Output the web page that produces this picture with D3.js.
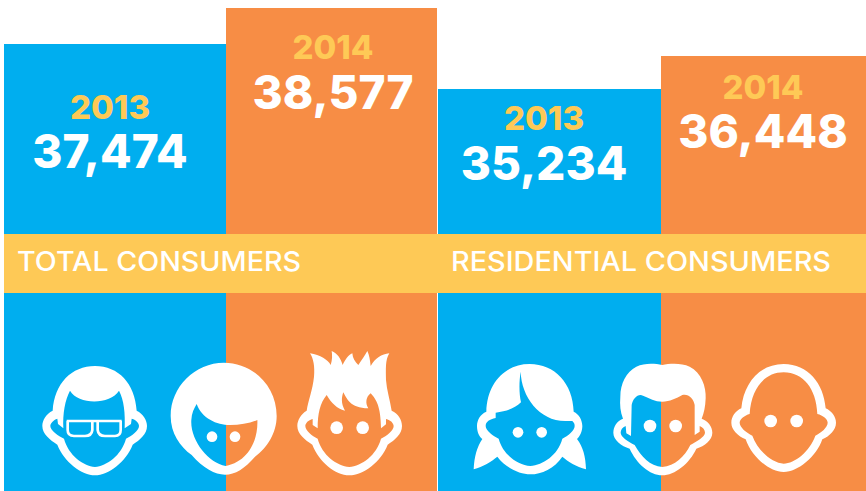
<!DOCTYPE html>
<html>
<head>
<meta charset="utf-8">
<script src="https://cdn.jsdelivr.net/npm/d3@7"></script>
<style>
  html, body { margin: 0; padding: 0; background: #fff; }
  text { font-family: Inter, sans-serif; }
</style>
</head>
<body>
<div id="main"></div>
<script>
const barKeys = ['total2013', 'total2014', 'res2013', 'res2014'];
const years = ['2013', '2014', '2013', '2014'];
const consumers = [37474, 38577, 35234, 36448];
const groupLabels = ['TOTAL CONSUMERS', 'RESIDENTIAL CONSUMERS'];

const BLUE = '#00aeef', ORANGE = '#f78d45', YELLOW = '#fec956';
const width = 866, height = 491;

// the original bars are not proportional, so the scale goes through each value
const y = d3.scaleLinear()
  .domain([35234, 36448, 37474, 38577])
  .range([89, 56, 44, 8]);
const xLeft = d3.scaleOrdinal().domain(barKeys).range([4, 226, 438, 661]);
const xRight = d3.scaleOrdinal().domain(barKeys).range([226, 437, 661, 866]);
const color = d3.scaleOrdinal().domain(barKeys).range([BLUE, ORANGE, BLUE, ORANGE]);
const labelCenter = d3.scaleOrdinal().domain(barKeys).range([110, 333, 544, 763]);
const yearBase = d3.scaleOrdinal().domain(barKeys).range([119, 59, 130, 99]);
const valueBase = d3.scaleOrdinal().domain(barKeys).range([168, 109, 180, 148]);
const fmt = d3.format(',');

const svg = d3.select('#main').append('svg')
  .attr('width', width)
  .attr('height', height)
  .style('display', 'block');

svg.selectAll('.bar')
  .data(barKeys)
  .enter().append('rect')
  .attr('class', 'bar')
  .attr('x', d => xLeft(d))
  .attr('width', d => xRight(d) - xLeft(d))
  .attr('y', (d, i) => y(consumers[i]))
  .attr('height', (d, i) => height - y(consumers[i]))
  .attr('fill', d => color(d));

svg.append('rect')
  .attr('x', 4).attr('y', 234)
  .attr('width', 862).attr('height', 59)
  .attr('fill', YELLOW);

svg.selectAll('.year')
  .data(barKeys)
  .enter().append('text')
  .attr('class', 'year')
  .attr('x', d => labelCenter(d))
  .attr('y', d => yearBase(d))
  .attr('text-anchor', 'middle')
  .attr('font-size', 33)
  .attr('font-weight', 800)
  .attr('fill', YELLOW)
  .text((d, i) => years[i]);

svg.selectAll('.value')
  .data(barKeys)
  .enter().append('text')
  .attr('class', 'value')
  .attr('x', d => labelCenter(d))
  .attr('y', d => valueBase(d))
  .attr('text-anchor', 'middle')
  .attr('font-size', 46)
  .attr('font-weight', 800)
  .attr('fill', '#fff')
  .text((d, i) => fmt(consumers[i]));

svg.selectAll('.group')
  .data(groupLabels)
  .enter().append('text')
  .attr('class', 'group')
  .attr('x', (d, i) => [17, 451][i])
  .attr('y', 271)
  .attr('font-size', 27)
  .attr('font-weight', 500)
  .attr('fill', '#fff')
  .attr('textLength', (d, i) => [284, 380][i])
  .attr('lengthAdjust', 'spacingAndGlyphs')
  .text(d => d);

// faces: traced at 3x, holes let the bars show through
const faces = [
  { at: [0, 340], eyes: [],
    d: 'M285 78C355 78 405 130 410 212C430 222 441 240 441 258C441 282 420 300 398 314C378 365 325 406 285 406C245 406 192 365 172 314C150 300 127 282 127 258C127 240 138 222 158 212C163 130 215 78 285 78Z' +
       'M210 152C235 195 330 195 357 152C372 180 376 220 374 265L393 252L395 236C410 240 417 250 417 258C417 272 395 288 378 296C365 345 320 378 285 381C250 378 205 345 192 296C175 288 151 272 151 258C151 250 160 240 172 236L174 252L190 265C188 220 195 180 210 152Z',
    glasses: 'M200 243H365M203 243V270Q203 288 222 288H255Q275 288 277 270V243M293 243V270Q295 288 315 288H345Q362 288 362 270V243' },
  { at: [0, 340], eyes: [[636, 290, 16], [705, 290, 16]],
    d: 'M672 68C760 68 830 140 830 228C830 280 800 325 765 350C735 385 705 404 675 404C645 404 610 385 575 345C540 320 512 280 512 228C512 140 585 68 672 68Z' +
       'M590 192C605 235 650 255 690 255C720 255 750 250 772 240C775 300 745 365 677 378C625 370 570 300 574 240C575 220 582 205 590 192Z' },
  { at: [0, 340], eyes: [[1010, 263, 19], [1088, 263, 19]],
    d: 'M930 40C960 45 985 60 992 75C997 60 997 45 995 33C1012 40 1022 55 1028 75C1035 60 1045 45 1057 40C1058 55 1065 65 1075 75C1085 60 1095 45 1102 33C1108 45 1110 60 1112 78C1125 55 1145 42 1168 40C1155 60 1158 90 1158 120C1160 150 1170 180 1175 212C1195 220 1206 240 1206 258C1206 282 1185 300 1163 314C1143 365 1090 406 1048 406C1006 406 957 365 937 314C915 300 892 282 892 258C892 240 903 222 920 212C925 180 938 150 942 110C945 80 940 55 930 40Z' +
       'M980 165C995 190 1010 205 1035 212C1022 190 1025 170 1030 157C1040 175 1050 205 1105 205C1095 190 1098 170 1112 160C1130 180 1142 200 1143 265L1158 253V237C1172 240 1181 250 1181 258C1181 272 1160 288 1143 296C1130 345 1085 378 1048 381C1011 378 966 345 953 296C936 288 916 272 916 258C916 250 925 240 938 237L938 255L953 265C953 220 960 190 980 165Z' },
  { at: [433, 340], eyes: [[255, 277, 16], [326, 277, 16]],
    d: 'M290 72C365 72 420 130 422 215C438 222 448 240 448 258C448 275 440 290 432 297C450 320 458 350 459 388C430 380 405 365 388 350C365 385 325 403 292 403C260 403 220 385 193 350C175 365 150 380 122 388C124 350 132 320 148 297C138 290 132 275 132 258C132 240 142 222 160 215C162 130 215 72 290 72Z' +
       'M188 218C220 215 245 205 264 187C258 160 258 125 263 95C265 170 320 245 400 243L418 243C423 248 425 252 425 258C425 272 405 288 388 296C375 345 330 375 292 378C255 375 210 345 197 296C180 288 158 272 158 258C158 245 170 238 188 234Z' },
  { at: [433, 340], eyes: [[651, 258, 19], [728, 258, 19]],
    d: 'M688 75C710 70 745 68 770 80C805 98 820 140 818 175C817 200 813 220 806 236C825 242 838 260 838 278C838 300 815 318 790 326C770 370 725 406 688 406C650 406 610 370 590 326C565 318 541 300 541 278C541 260 552 242 570 236C562 215 560 195 562 170C562 130 580 95 610 80C635 68 665 70 688 75Z' +
       'M596 195C600 175 615 160 630 167C650 175 665 185 688 185C710 185 730 175 748 165C765 160 782 175 785 195V285L800 275V258C810 262 816 270 816 278C816 290 790 305 772 315C755 350 725 378 688 381C650 378 625 350 605 315C585 305 563 290 563 278C563 270 568 262 578 258L580 280L594 288Z' },
  { at: [433, 340], eyes: [[1013, 243, 19], [1091, 243, 19]],
    d: 'M1052 72C1125 72 1172 130 1178 205C1195 212 1209 230 1209 248C1209 270 1190 288 1168 298C1150 350 1095 396 1052 396C1010 396 955 350 938 298C915 288 895 270 895 248C895 230 908 212 925 205C932 130 980 72 1052 72Z' +
       'M1052 97C1110 97 1150 145 1153 222C1170 226 1184 238 1184 248C1184 262 1165 278 1147 287C1130 335 1085 370 1052 371C1020 370 975 335 958 287C940 278 920 262 920 248C920 238 935 226 950 222C955 145 995 97 1052 97Z' }
];

const face = svg.selectAll('.face')
  .data(faces)
  .enter().append('g')
  .attr('class', 'face')
  .attr('transform', d => 'translate(' + d.at[0] + ',' + d.at[1] + ') scale(' + (1 / 3) + ')');

face.append('path')
  .attr('d', d => d.d)
  .attr('fill', '#fff')
  .attr('fill-rule', 'evenodd');

face.filter(d => d.glasses).append('path')
  .attr('d', d => d.glasses)
  .attr('fill', 'none')
  .attr('stroke', '#fff')
  .attr('stroke-width', 8);

face.selectAll('circle')
  .data(d => d.eyes)
  .enter().append('circle')
  .attr('cx', d => d[0])
  .attr('cy', d => d[1])
  .attr('r', d => d[2])
  .attr('fill', '#fff');
</script>
</body>
</html>
